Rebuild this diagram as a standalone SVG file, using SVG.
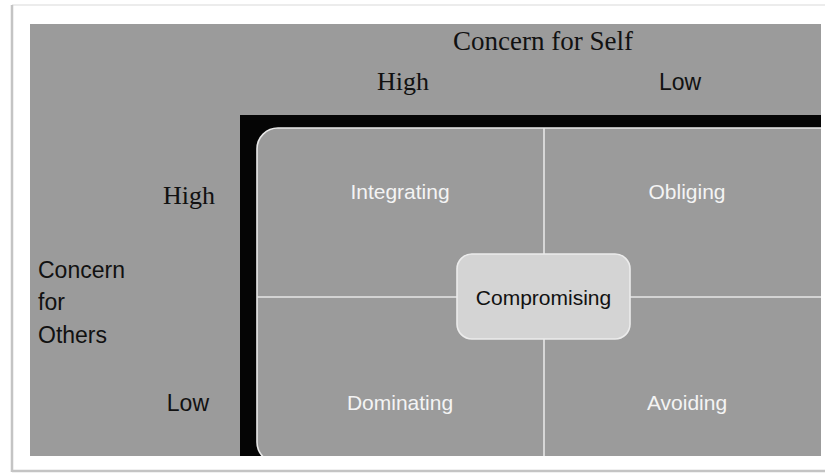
<svg xmlns="http://www.w3.org/2000/svg" width="825" height="474" viewBox="0 0 825 474">
  <style>
    .serif { font-family: "Liberation Serif", "Times New Roman", serif; fill: #111; }
    .sans { font-family: "Liberation Sans", Arial, sans-serif; fill: #111; }
    .quad { font-family: "Liberation Sans", Arial, sans-serif; fill: #f4f4f4; font-size: 21px; text-anchor: middle; }
    .divider { stroke: #e6e6e6; stroke-width: 1.6; fill: none; }
  </style>
  <defs>
    <clipPath id="area">
      <rect x="30" y="24" width="791" height="432"/>
    </clipPath>
  </defs>
  <rect x="0" y="0" width="825" height="474" fill="#ffffff"/>
  <line x1="12" y1="5" x2="825" y2="5" stroke="#ececec" stroke-width="2"/>
  <line x1="12" y1="5" x2="12" y2="472" stroke="#c4c4c4" stroke-width="2.5"/>
  <line x1="12" y1="471" x2="825" y2="471" stroke="#c4c4c4" stroke-width="2.5"/>
  <rect x="30" y="24" width="791" height="432" fill="#9b9b9b"/>

  <g id="background" clip-path="url(#area)">
    <rect x="240" y="115" width="590" height="350" fill="#050505"/>
    <rect x="257" y="128" width="584" height="335" rx="21" ry="21" fill="#9b9b9b" stroke="#e8e8e8" stroke-width="1.6"/>
  </g>

  <g id="connectors" clip-path="url(#area)">
    <line class="divider" x1="544" y1="128" x2="544" y2="456"/>
    <line class="divider" x1="257" y1="297" x2="821" y2="297"/>
  </g>

  <g id="axis-self">
    <text class="serif" x="543" y="50" font-size="27" text-anchor="middle">Concern for Self</text>
    <text class="serif" x="403" y="90" font-size="26" text-anchor="middle">High</text>
    <text class="sans" x="680" y="90" font-size="23" text-anchor="middle">Low</text>
  </g>

  <g id="axis-others">
    <text class="serif" x="215" y="204" font-size="26" text-anchor="end">High</text>
    <text class="sans" x="38" y="278" font-size="23">Concern</text>
    <text class="sans" x="38" y="310" font-size="23">for</text>
    <text class="sans" x="38" y="343" font-size="23">Others</text>
    <text class="sans" x="209" y="411" font-size="23" text-anchor="end">Low</text>
  </g>

  <g id="integrating"><text class="quad" x="400" y="199">Integrating</text></g>
  <g id="obliging"><text class="quad" x="687" y="199">Obliging</text></g>
  <g id="dominating"><text class="quad" x="400" y="410">Dominating</text></g>
  <g id="avoiding"><text class="quad" x="687" y="410">Avoiding</text></g>

  <g id="compromising">
    <rect x="457" y="254" width="173" height="85" rx="15" ry="15" fill="#d4d4d4" stroke="#ececec" stroke-width="1.6"/>
    <text class="sans" x="543.5" y="305" font-size="21" text-anchor="middle" fill="#222">Compromising</text>
  </g>
</svg>
